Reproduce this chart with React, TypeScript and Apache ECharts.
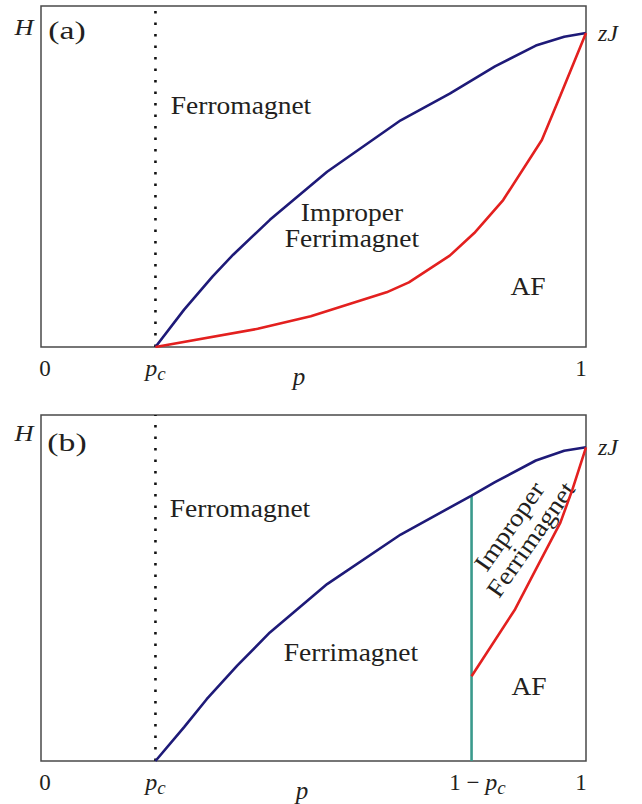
import React, { useEffect, useRef } from 'react';
import * as echarts from 'echarts';

// ---- data (p in units of 1, H in units of zJ) ----
const PC = 0.21;
const Y_MAX_A = 1.086;
const Y_MAX_B = 1.103;

const xTickValuesA = [0, PC, 1];
const xTickLabelsA = ['0', 'p_c', '1'];
const xTickValuesB = [0, PC, 1 - PC, 1];
const xTickLabelsB = ['0', 'p_c', '1 − p_c', '1'];
const yTickValues = [1];
const yTickLabels = ['zJ'];

const blueA_p = [0.21, 0.2626, 0.315, 0.3526, 0.42, 0.525, 0.66, 0.75, 0.833, 0.908, 0.96, 1.0];
const blueA_h = [0, 0.119, 0.225, 0.294, 0.405, 0.558, 0.722, 0.807, 0.894, 0.96, 0.988, 1.0];
const redA_p = [0.21, 0.3976, 0.495, 0.634, 0.675, 0.75, 0.795, 0.848, 0.919, 0.953, 1.0];
const redA_h = [0, 0.058, 0.098, 0.174, 0.206, 0.291, 0.363, 0.468, 0.659, 0.801, 1.0];

const blueB_p = [0.21, 0.2626, 0.304, 0.36, 0.42, 0.525, 0.66, 0.79, 0.833, 0.908, 0.96, 1.0];
const blueB_h = [0, 0.108, 0.197, 0.304, 0.41, 0.564, 0.722, 0.846, 0.889, 0.958, 0.989, 1.0];
const redB_p = [0.79, 0.87, 0.908, 0.953, 0.975, 1.0];
const redB_h = [0.27, 0.484, 0.611, 0.76, 0.865, 1.0];
const greenB_p = [1 - PC, 1 - PC];
const greenB_h = [0, 0.846];

const zip = (xs: number[], ys: number[]) => xs.map((x, i) => [x, ys[i]]);

const SERIF = 'Liberation Serif';
const TXT = '#231f20';
const BLUE = '#1e1a78';
const RED = '#e3201f';
const GREEN = '#3a9a8c';

const fmtTick = (labels: string[], values: number[]) => (v: number) => {
  let idx = -1;
  values.forEach((tv, i) => {
    if (Math.abs(tv - v) < 1e-6) idx = i;
  });
  if (idx < 0) return '';
  const l = labels[idx];
  if (l === 'p_c') return '{i|p}{s|c}';
  if (l === '1 − p_c') return '{m|1 − }{i|p}{s|c}';
  if (idx === 0) return '{z|' + l + '}';
  if (idx === values.length - 1) return '{o|' + l + '}';
  return '{n|' + l + '}';
};

const numStyle = { fontFamily: SERIF, fontSize: 23, color: TXT, lineHeight: 30, verticalAlign: 'middle' };
const tickRich = {
  n: numStyle,
  z: { ...numStyle, padding: [0, 0, 0, 8] },
  o: { ...numStyle, padding: [0, 10, 0, 0] },
  m: { ...numStyle, padding: [0, 0, 0, 12] },
  i: { fontFamily: SERIF, fontSize: 24, fontStyle: 'italic', color: TXT, lineHeight: 30, verticalAlign: 'middle' },
  s: { fontFamily: SERIF, fontSize: 19, fontStyle: 'italic', color: TXT, lineHeight: 19, verticalAlign: 'bottom' },
};

const label = (text: string, x: number, y: number, extra: any = {}) => ({
  type: 'text',
  x,
  y,
  scaleX: extra.scaleX ?? 1.1,
  rotation: extra.rotation ?? 0,
  style: {
    text,
    fill: TXT,
    fontFamily: SERIF,
    fontSize: extra.size ?? 25,
    fontStyle: extra.italic ? 'italic' : 'normal',
    align: 'center',
    verticalAlign: 'middle',
  },
});

export default function App() {
  const ref = useRef<HTMLDivElement>(null);
  useEffect(() => {
    if (!ref.current) return;
    const chart = echarts.init(ref.current, null, { renderer: 'svg' });
    const grids = [
      { left: 41, top: 6, width: 545, height: 341 },
      { left: 41, top: 415, width: 545, height: 347 },
    ].map((g) => ({ ...g, show: true, borderColor: '#4a4a4a', borderWidth: 1.5, backgroundColor: 'transparent' }));

    const xAxis = [
      { vals: xTickValuesA, labs: xTickLabelsA, pad: 29 },
      { vals: xTickValuesB, labs: xTickLabelsB, pad: 23 },
    ].map((a, i) => ({
      type: 'value',
      gridIndex: i,
      min: 0,
      max: 1,
      axisLine: { show: false },
      axisTick: { show: false },
      splitLine: { show: false },
      axisLabel: {
        customValues: a.vals,
        formatter: fmtTick(a.labs, a.vals),
        rich: tickRich,
        margin: 6,
        showMinLabel: true,
        showMaxLabel: true,
        hideOverlap: false,
      },
      name: 'p',
      nameLocation: 'middle',
      nameGap: 17,
      nameMoveOverlap: false,
      nameTextStyle: {
        fontFamily: SERIF,
        fontSize: 25,
        fontStyle: 'italic',
        color: TXT,
        padding: [0, a.pad, 0, 0],
      },
    }));

    const yAxis = [Y_MAX_A, Y_MAX_B].map((m, i) => ({
      type: 'value',
      gridIndex: i,
      min: 0,
      max: m,
      position: 'right',
      axisLine: { show: false },
      axisTick: { show: false },
      splitLine: { show: false },
      axisLabel: {
        customValues: yTickValues,
        formatter: (v: number) => (Math.abs(v - 1) < 1e-6 ? yTickLabels[0] : ''),
        fontFamily: SERIF,
        fontSize: 24,
        fontStyle: 'italic',
        color: TXT,
        margin: 12,
        padding: [0, 0, 7, 0],
        showMinLabel: false,
        showMaxLabel: false,
      },
    }));

    const line = (data: number[][], i: number, color: string, width = 2.6, type: any = 'solid') => ({
      type: 'line',
      xAxisIndex: i,
      yAxisIndex: i,
      data,
      showSymbol: false,
      symbol: 'none',
      smooth: false,
      silent: true,
      lineStyle: { color, width, type, cap: 'butt' },
    });

    chart.setOption({
      animation: false,
      grid: grids,
      xAxis,
      yAxis,
      series: [
        line(zip([PC, PC], [0, Y_MAX_A]), 0, '#111', 2.6, [2.6, 8.9]),
        line(zip(blueA_p, blueA_h), 0, BLUE),
        line(zip(redA_p, redA_h), 0, RED),
        line(zip([PC, PC], [0, Y_MAX_B]), 1, '#111', 2.6, [2.6, 8.9]),
        line(zip(greenB_p, greenB_h), 1, GREEN),
        line(zip(blueB_p, blueB_h), 1, BLUE),
        line(zip(redB_p, redB_h), 1, RED),
      ],
      graphic: [
        label('H', 24, 27, { italic: true, size: 24 }),
        label('(a)', 67, 31, { size: 25, scaleX: 1.35 }),
        label('Ferromagnet', 241, 106, {}),
        label('Improper', 352, 213, {}),
        label('Ferrimagnet', 352, 239, {}),
        label('AF', 528, 287, {}),
        label('H', 24, 433, { italic: true, size: 24 }),
        label('(b)', 67, 443, { size: 25, scaleX: 1.35 }),
        label('Ferromagnet', 240, 509, {}),
        label('Ferrimagnet', 351, 653, {}),
        label('AF', 529, 687, {}),
        label('Improper', 509.5, 526.5, { rotation: (55 * Math.PI) / 180 }),
        label('Ferrimagnet', 531, 539.5, { rotation: (55 * Math.PI) / 180 }),
      ],
    });
    return () => chart.dispose();
  }, []);
  return <div ref={ref} style={{ position: 'absolute', left: 0, top: 0, width: 642, height: 804 }} />;
}
